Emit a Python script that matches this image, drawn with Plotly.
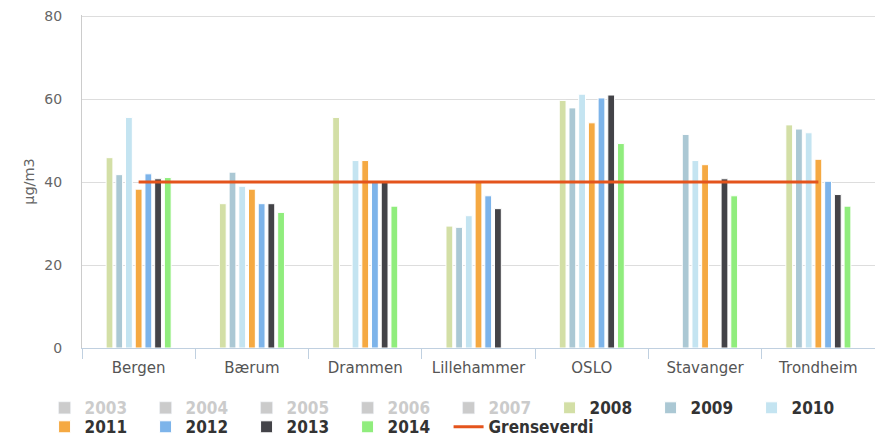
import plotly.graph_objects as go

cities = ["Bergen", "Bærum", "Drammen", "Lillehammer", "OSLO", "Stavanger", "Trondheim"]
hidden_years = ["2003", "2004", "2005", "2006", "2007"]
years = ["2008", "2009", "2010", "2011", "2012", "2013", "2014"]

v2008 = [45.9, 34.8, 55.6, 29.4, 59.7, None, 53.8]
v2009 = [41.8, 42.4, None, 29.1, 57.9, 51.5, 52.8]
v2010 = [55.6, 39.0, 45.2, 31.9, 61.2, 45.2, 51.9]
v2011 = [38.3, 38.3, 45.2, 40.0, 54.3, 44.2, 45.5]
v2012 = [42.0, 34.8, 40.0, 36.7, 60.3, None, 40.2]
v2013 = [40.8, 34.8, 40.0, 33.6, 61.0, 40.8, 37.0]
v2014 = [41.1, 32.7, 34.2, None, 49.3, 36.7, 34.2]
values = [v2008, v2009, v2010, v2011, v2012, v2013, v2014]
grenseverdi = [40, 40, 40, 40, 40, 40, 40]

colors = ["#d3dfa6", "#abc8d4", "#c4e4f1", "#f5a942", "#7db4ea", "#434348", "#90ed7d"]
line_color = "#e4541c"
hidden_color = "#999999"

fig = go.Figure()

for y in hidden_years:
    fig.add_trace(go.Bar(
        x=cities, y=[None] * len(cities),
        name=f"<span style='color:{hidden_color}'>{y}</span>",
        marker=dict(color=hidden_color),
        visible="legendonly", legend="legend",
    ))

for i, (y, vals) in enumerate(zip(years, values)):
    fig.add_trace(go.Bar(
        x=cities, y=vals, name=y,
        marker=dict(color=colors[i], line=dict(color="white", width=1)),
        legend="legend" if i < 3 else "legend2",
    ))

fig.add_trace(go.Scatter(
    x=cities, y=grenseverdi, name="Grenseverdi", mode="lines",
    line=dict(color=line_color, width=3), legend="legend2",
))
# invisible spacer entry so the last legend label is not clipped
fig.add_trace(go.Scatter(
    x=[None], y=[None], name=" ", mode="lines",
    line=dict(color="rgba(0,0,0,0)", width=0), legend="legend2", hoverinfo="skip",
))

legend_common = dict(
    orientation="h", xanchor="left", yanchor="middle",
    font=dict(family="DejaVu Sans Condensed, DejaVu Sans", size=17, color="#333333", weight="bold"),
    entrywidth=56, traceorder="normal", bgcolor="rgba(0,0,0,0)",
    itemclick=False, itemdoubleclick=False,
)

fig.update_layout(
    width=875, height=438,
    margin=dict(l=82, r=0, t=15, b=90, autoexpand=False),
    paper_bgcolor="white", plot_bgcolor="white",
    barmode="group", bargap=0.4, bargroupgap=0.3,
    font=dict(family="DejaVu Sans", size=14, color="#666666"),
    legend=dict(x=-0.0472, y=-0.181, **legend_common),
    legend2=dict(x=-0.0472, y=-0.238, **legend_common),
    xaxis=dict(
        type="category", tickson="boundaries", ticks="outside", ticklen=10,
        tickcolor="#c0d0e0", showline=True, linecolor="#c0d0e0", linewidth=1,
        showgrid=False, automargin=False, ticklabelstandoff=6,
        tickfont=dict(size=15, color="#555555"),
    ),
    yaxis=dict(
        range=[0, 80.3], tickvals=[0, 20, 40, 60, 80], showgrid=True, gridcolor="#dddddd",
        showline=True, linecolor="#cccccc", zeroline=False, automargin=False,
        ticks="", ticklabelstandoff=16, tickfont=dict(size=14, color="#666666"),
        title=dict(text="µg/m3", font=dict(size=14.5, color="#666666"), standoff=6),
    ),
)

fig.write_html(
    "out.html",
    config={"displayModeBar": False},
    post_script="document.body.style.margin='0px';",
)
